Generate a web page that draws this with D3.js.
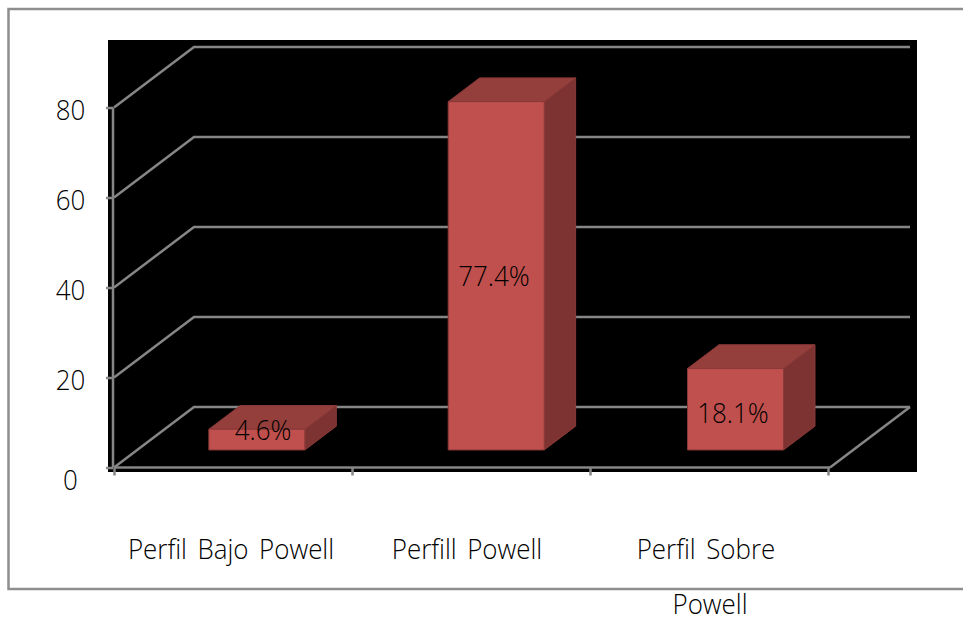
<!DOCTYPE html>
<html>
<head>
<meta charset="utf-8">
<script src="https://d3js.org/d3.v7.min.js"></script>
<style>
  html, body { margin: 0; padding: 0; background: #fff; overflow: hidden; }
  text { font-family: "Open Sans", sans-serif; font-weight: 300; fill: #000; }
  .axis line, .axis path { stroke: #868686; stroke-width: 2.5px; }
</style>
</head>
<body>
<div id="chart"></div>
<script>
const categories = [['Perfil Bajo Powell'], ['Perfill Powell'], ['Perfil Sobre', 'Powell']];
const values = [4.6, 77.4, 18.1];
const valueLabels = ['4.6%', '77.4%', '18.1%'];
const yTicks = [0, 20, 40, 60, 80];

const width = 963, height = 622;
const fontSize = 27, squeeze = 0.96;
const svg = d3.select('#chart').append('svg')
    .attr('width', width)
    .attr('height', height);

// outer frame and plot background
svg.append('rect')
    .attr('x', 8.5).attr('y', 9)
    .attr('width', 970).attr('height', 580)
    .attr('fill', 'none').attr('stroke', '#8e8e8e').attr('stroke-width', 2.5);
svg.append('rect')
    .attr('x', 108).attr('y', 40)
    .attr('width', 809).attr('height', 432)
    .attr('fill', '#000');

const x = d3.scaleLinear().domain([0, 3]).range([114, 828]);
const xBars = d3.scaleBand().domain(d3.range(categories.length)).range([114, 832]);
const y = d3.scaleLinear().domain([0, 80]).range([467.5, 107.5]);

// fake 3d: depth 0 is the front of the floor, depth 1 the back wall
const depthX = 80, depthY = -60.5;
const project = (px, v, d) => [px + d * depthX, y(v) + d * depthY];
const line = d3.line();

// narrow text: squeeze horizontally around its own anchor
function textAt(sel, px, py) {
  sel.attr('font-size', fontSize)
     .attr('text-anchor', 'middle')
     .attr('transform', (d, i) => `translate(${px(d, i)},${py(d, i)}) scale(${squeeze},1)`);
}

// walls and grid
const grid = svg.append('g').attr('fill', 'none').attr('stroke', '#868686').attr('stroke-width', 2.5);
yTicks.forEach(t => {
  grid.append('path').attr('d', line([project(114, t, 0), project(114, t, 1), project(830, t, 1)]));
});
grid.append('path').attr('d', line([project(830, 0, 0), project(830, 0, 1)]));

// axes
const yAxis = d3.axisLeft(y).tickValues(yTicks).tickSize(7).tickFormat('');
const gy = svg.append('g').attr('class', 'axis').attr('transform', 'translate(113,0)').call(yAxis);
gy.select('.domain').attr('d', `M0,${y(80)}V${y(0)}`);

const xAxis = d3.axisBottom(x).ticks(3).tickSize(8).tickFormat('');
const gx = svg.append('g').attr('class', 'axis').attr('transform', `translate(0,${y(0)})`).call(xAxis);
gx.select('.domain').attr('d', 'M114,0H830');

svg.selectAll('text.ytick').data(yTicks).enter().append('text')
    .attr('class', 'ytick')
    .call(textAt, () => 70.5, t => t === 0 ? 490 : y(t) + 12)
    .text(t => t);

// bars
const barFront = 0.29, barBack = 0.683, barWidth = 96;
const bars = svg.selectAll('g.bar').data(values).enter().append('g')
    .attr('class', 'bar')
    .attr('stroke', '#8a3a38').attr('stroke-width', 1);

const cx = i => xBars(i) + xBars.bandwidth() / 2;
const corner = (i, side, v, d) => project(cx(i) + side * barWidth / 2, v, d);

bars.append('path')
    .attr('fill', '#7d3331')
    .attr('d', (v, i) => line([corner(i, 1, 0, barFront), corner(i, 1, 0, barBack), corner(i, 1, v, barBack), corner(i, 1, v, barFront)]) + 'Z');
bars.append('path')
    .attr('fill', '#953f3d')
    .attr('d', (v, i) => line([corner(i, -1, v, barFront), corner(i, -1, v, barBack), corner(i, 1, v, barBack), corner(i, 1, v, barFront)]) + 'Z');
bars.append('path')
    .attr('fill', '#c0504d')
    .attr('d', (v, i) => line([corner(i, -1, 0, barFront), corner(i, -1, v, barFront), corner(i, 1, v, barFront), corner(i, 1, 0, barFront)]) + 'Z');

// value labels
const labelPos = [[263, 440], [494, 286], [733, 423]];
svg.selectAll('text.value').data(valueLabels).enter().append('text')
    .attr('class', 'value')
    .call(textAt, (d, i) => labelPos[i][0], (d, i) => labelPos[i][1])
    .text(d => d);

// category labels, wide word gaps like the original
const catX = [231, 467, 706];
const catRows = categories.flatMap((c, i) => c.map((s, j) => ({s, i, j})));
svg.selectAll('text.cat').data(catRows).enter().append('text')
    .attr('class', 'cat')
    .attr('word-spacing', 4)
    .call(textAt, d => d.j ? 710 : catX[d.i], d => d.j ? 614 : 559)
    .text(d => d.s);
</script>
</body>
</html>
